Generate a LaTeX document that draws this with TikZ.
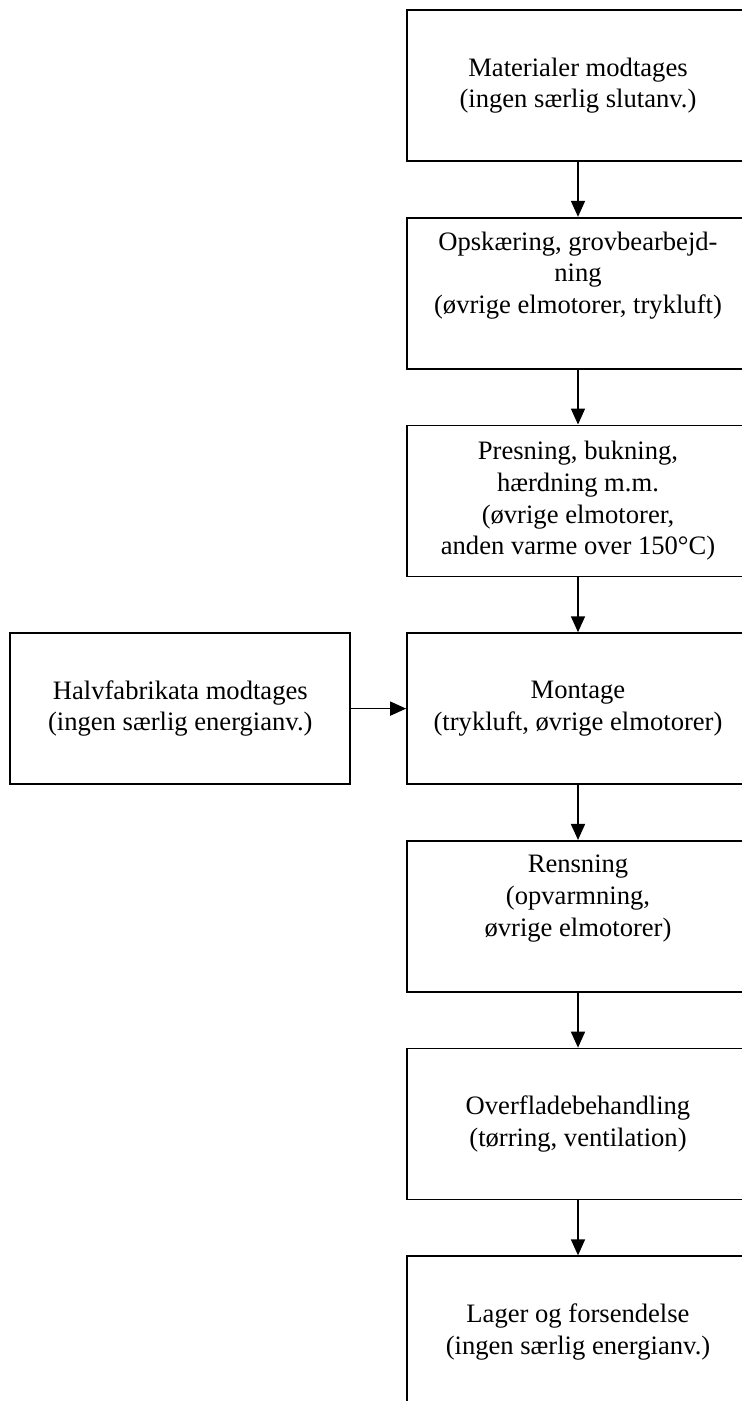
\documentclass[tikz,border=0pt]{standalone}
\usepackage{fontspec}
\setmainfont{Liberation Serif}
\usepackage{tikz}
\usetikzlibrary{arrows.meta,positioning}

\tikzset{
    stage/.style={draw, line width=1.7pt, minimum width=342pt, minimum height=151pt,
        align=center, inner sep=0pt, font=\fontsize{26.6}{31.7}\selectfont},
    flow/.style={line width=1.7pt, -{Triangle[length=16pt,width=14pt]}}
}

\begin{document}
\begin{tikzpicture}[x=1pt, y=1pt, node distance=55pt]
\useasboundingbox (0,0) rectangle (742,-1401);
\clip (0,0) rectangle (742,-1401);
% main line
\node[stage] (modtag) at (578,-85.5) {Materialer modtages\\(ingen særlig slutanv.)};
\node[stage, below=of modtag] (opskaer) {Opskæring, grovbearbejd-\\ning\\(øvrige elmotorer, trykluft)\\ \strut};
\node[stage, below=of opskaer] (presning) {Presning, bukning,\\hærdning m.m.\\(øvrige elmotorer,\\anden varme over 150°C)};
\node[stage, below=of presning] (montage) {Montage\\(trykluft, øvrige elmotorer)};
\node[stage, below=of montage] (rens) {Rensning\\(opvarmning,\\øvrige elmotorer)\\ \strut};
\node[stage, below=of rens] (overflade) {Overfladebehandling\\(tørring, ventilation)};
\node[stage, below=of overflade] (lager) {Lager og forsendelse\\(ingen særlig energianv.)};
% side input
\node[stage, minimum width=340pt, left=55pt of montage] (halvfab) {Halvfabrikata modtages\\(ingen særlig energianv.)};

\draw[flow] (modtag) -- (opskaer);
\draw[flow] (opskaer) -- (presning);
\draw[flow] (presning) -- (montage);
\draw[flow] (montage) -- (rens);
\draw[flow] (rens) -- (overflade);
\draw[flow] (overflade) -- (lager);
\draw[flow] (halvfab) -- (montage);
\end{tikzpicture}
\end{document}
